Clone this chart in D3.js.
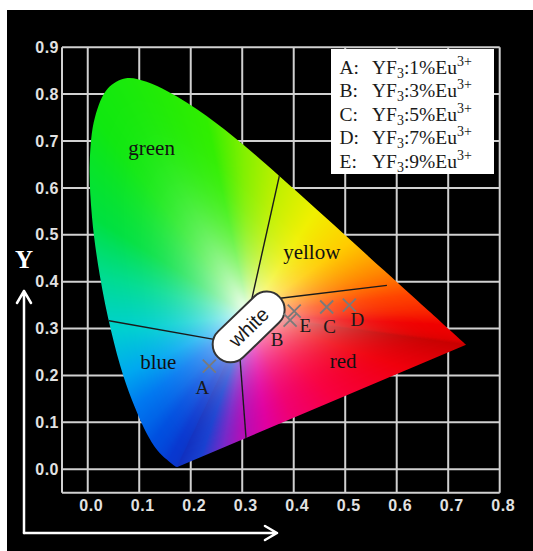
<!DOCTYPE html>
<html>
<head>
<meta charset="utf-8">
<script src="https://cdn.jsdelivr.net/npm/d3@7"></script>
<style>
  body { margin: 0; background: #fff; }
  svg { display: block; }
</style>
</head>
<body>
<div id="chart"></div>
<script>
// ---- chart data ----
var xTicks = [0.0, 0.1, 0.2, 0.3, 0.4, 0.5, 0.6, 0.7, 0.8];
var yTicks = [0.0, 0.1, 0.2, 0.3, 0.4, 0.5, 0.6, 0.7, 0.8, 0.9];

// CIE 1931 spectral locus (wavelength in nm, x, y)
var locusNm = [380, 420, 430, 440, 450, 460, 465, 470, 475, 480, 485, 490, 495, 500, 505, 510, 515, 520, 525, 530,
               535, 540, 545, 550, 555, 560, 565, 570, 575, 580, 585, 590, 595, 600, 605, 610, 620, 630, 640, 650, 700];
var locusX = [0.1741, 0.1714, 0.1689, 0.1644, 0.1566, 0.1440, 0.1355, 0.1241, 0.1096, 0.0913, 0.0687, 0.0454, 0.0235, 0.0082,
              0.0039, 0.0139, 0.0389, 0.0743, 0.1142, 0.1547, 0.1929, 0.2296, 0.2658, 0.3016, 0.3373, 0.3731, 0.4087, 0.4441,
              0.4788, 0.5125, 0.5448, 0.5752, 0.6029, 0.6270, 0.6482, 0.6658, 0.6915, 0.7079, 0.7190, 0.7260, 0.7347];
var locusY = [0.0050, 0.0051, 0.0069, 0.0109, 0.0177, 0.0297, 0.0399, 0.0578, 0.0868, 0.1327, 0.2007, 0.2950, 0.4127, 0.5384,
              0.6548, 0.7502, 0.8120, 0.8338, 0.8262, 0.8059, 0.7816, 0.7543, 0.7243, 0.6923, 0.6589, 0.6245, 0.5896, 0.5547,
              0.5202, 0.4866, 0.4544, 0.4242, 0.3965, 0.3725, 0.3514, 0.3340, 0.3083, 0.2920, 0.2809, 0.2740, 0.2653];
var whitePoint = [0.3127, 0.3290];

// colour regions
var regionNames = ['green', 'yellow', 'blue', 'red'];
var regionX = [0.124, 0.435, 0.137, 0.496];
var regionY = [0.671, 0.449, 0.213, 0.215];

// region boundaries [x1, y1, x2, y2]
var dividers = [
  [0.376, 0.645, 0.318, 0.360],
  [0.581, 0.392, 0.3695, 0.364],
  [0.025, 0.320, 0.2588, 0.2743],
  [0.2948, 0.2496, 0.3082, 0.055]
];

// white zone
var whiteCentre = [0.3125, 0.3034];

// samples
var sampleNames = ['A', 'B', 'C', 'D', 'E'];
var sampleX = [0.236, 0.393, 0.464, 0.508, 0.401];
var sampleY = [0.220, 0.318, 0.346, 0.350, 0.337];
var sampleDoping = ['1%', '3%', '5%', '7%', '9%'];

// ---- styles ----
var labelDx = [-7, -13, 3, 8, 11];
var labelDy = [28, 26, 26, 21, 21];

// edge colours along the locus (by wavelength) and the line of purples (fraction from red end)
var spectrumStops = [[380, '#1030c0'], [450, '#0838d0'], [470, '#0050e0'], [480, '#0078f0'], [485, '#00a8f0'],
                     [490, '#00d0d0'], [495, '#00dc90'], [500, '#00e040'], [510, '#10e810'], [540, '#30ee00'],
                     [550, '#80f000'], [560, '#c0f000'], [570, '#f0f000'], [580, '#ffcc00'], [590, '#ff8800'],
                     [600, '#ff4400'], [620, '#f00000'], [650, '#e00000'], [700, '#c80000']];
var purpleStops = [[0, '#c80000'], [0.2, '#f0000c'], [0.45, '#f80040'], [0.6, '#f00070'], [0.69, '#e000a0'],
                   [0.78, '#b010b8'], [0.84, '#7828c8'], [0.92, '#1840d0'], [1, '#1030c0']];

var width = 533, height = 551;

var svg = d3.select('#chart').append('svg')
            .attr('width', width)
            .attr('height', height);

// Scales
var x = d3.scaleLinear().domain([-0.05, 0.8]).range([62, 499.7]);
var y = d3.scaleLinear().domain([-0.05, 0.9]).range([492.7, 47.2]);

// Black panel
svg.append('rect')
   .attr('x', 7).attr('y', 10)
   .attr('width', 526).attr('height', 541)
   .attr('fill', '#000');

// Grid
var grid = svg.append('g').attr('stroke', '#d0d0d0').attr('stroke-width', 2);
grid.selectAll('.vline')
    .data([-0.05].concat(xTicks))
    .join('line')
    .attr('x1', function(d) { return x(d); })
    .attr('x2', function(d) { return x(d); })
    .attr('y1', y(0.9))
    .attr('y2', y(-0.05));
grid.selectAll('.hline')
    .data([-0.05].concat(yTicks))
    .join('line')
    .attr('x1', x(-0.05))
    .attr('x2', x(0.8))
    .attr('y1', function(d) { return y(d); })
    .attr('y2', function(d) { return y(d); });

// Tick labels
var fmt = d3.format('.1f');
var yAxis = svg.append('g')
               .attr('transform', 'translate(' + x(-0.05) + ',0)')
               .call(d3.axisLeft(y).tickValues(yTicks).tickFormat(fmt).tickSize(0).tickPadding(3));
var xAxis = svg.append('g')
               .attr('transform', 'translate(0,' + y(-0.05) + ')')
               .call(d3.axisBottom(x).tickValues(xTicks).tickFormat(fmt).tickSize(0).tickPadding(7));
[xAxis, yAxis].forEach(function(ax) {
  ax.select('.domain').remove();
  ax.selectAll('text')
    .attr('fill', '#e2e2e2')
    .style('font-family', '"Liberation Sans", Arial, sans-serif')
    .style('font-weight', 'bold')
    .style('font-size', '16px')
    .style('letter-spacing', '0.5px');
});
xAxis.selectAll('text').attr('dx', 3);

// ---- chromaticity fill ----
var locus = locusNm.map(function(nm, i) { return [locusX[i], locusY[i]]; });

function stopColour(stops, v) {
  for (var i = 1; i < stops.length; i++) {
    if (v <= stops[i][0]) {
      var t = (v - stops[i-1][0]) / (stops[i][0] - stops[i-1][0]);
      return d3.rgb(d3.interpolateRgb(stops[i-1][1], stops[i][1])(t));
    }
  }
  return d3.rgb(stops[stops.length-1][1]);
}

// boundary polygon with a colour at every vertex
var edgePts = locus.map(function(p, i) { return {p: p, c: stopColour(spectrumStops, locusNm[i])}; });
var red = locus[locus.length-1], blue = locus[0];
purpleStops.slice(1, -1).forEach(function(s) {
  edgePts.push({p: [red[0] + (blue[0]-red[0]) * s[0], red[1] + (blue[1]-red[1]) * s[0]], c: d3.rgb(s[1])});
});

// for each direction from the white point find the edge distance and colour
var nBins = 2048;
var binDist = new Float32Array(nBins), binCol = [];
for (var k = 0; k < nBins; k++) {
  var a = k / nBins * 2 * Math.PI, dx = Math.cos(a), dy = Math.sin(a);
  var best = Infinity, bestCol = d3.rgb('#fff');
  for (var i = 0; i < edgePts.length; i++) {
    var p1 = edgePts[i], p2 = edgePts[(i+1) % edgePts.length];
    var ex = p2.p[0] - p1.p[0], ey = p2.p[1] - p1.p[1];
    var den = dx * ey - dy * ex;
    if (Math.abs(den) < 1e-12) continue;
    var wx = p1.p[0] - whitePoint[0], wy = p1.p[1] - whitePoint[1];
    var t = (wx * ey - wy * ex) / den;
    var u = (wx * dy - wy * dx) / den;
    if (t > 0 && u >= 0 && u <= 1 && t < best) {
      best = t;
      bestCol = d3.rgb(d3.interpolateRgb(p1.c, p2.c)(u));
    }
  }
  binDist[k] = best;
  binCol.push(bestCol);
}

var x0 = Math.floor(x(-0.05)), x1 = Math.ceil(x(0.8));
var y0 = Math.floor(y(0.9)), y1 = Math.ceil(y(-0.05));
var canvas = document.createElement('canvas');
canvas.width = x1 - x0; canvas.height = y1 - y0;
var ctx = canvas.getContext('2d');
var img = ctx.createImageData(canvas.width, canvas.height);
for (var py = 0; py < canvas.height; py++) {
  for (var px = 0; px < canvas.width; px++) {
    var cx = x.invert(x0 + px + 0.5), cy = y.invert(y0 + py + 0.5);
    var ddx = cx - whitePoint[0], ddy = cy - whitePoint[1];
    var ang = Math.atan2(ddy, ddx); if (ang < 0) ang += 2 * Math.PI;
    var b = Math.round(ang / (2 * Math.PI) * nBins) % nBins;
    var s = Math.min(1, Math.sqrt(ddx*ddx + ddy*ddy) / binDist[b]);
    var f = 1 - Math.pow(1 - s, 2.6);
    var col = binCol[b];
    var o = (py * canvas.width + px) * 4;
    img.data[o] = 255 * (1 - f) + col.r * f;
    img.data[o+1] = 255 * (1 - f) + col.g * f;
    img.data[o+2] = 255 * (1 - f) + col.b * f;
    img.data[o+3] = 255;
  }
}
ctx.putImageData(img, 0, 0);

// locus outline as clip path (smooth curve, straight line of purples)
var locusLine = d3.line()
                  .x(function(d) { return x(d[0]); })
                  .y(function(d) { return y(d[1]); })
                  .curve(d3.curveCatmullRom);
svg.append('clipPath').attr('id', 'locus-clip')
   .append('path').attr('d', locusLine(locus) + 'Z');

svg.append('image')
   .attr('x', x0).attr('y', y0)
   .attr('width', canvas.width).attr('height', canvas.height)
   .attr('href', canvas.toDataURL())
   .attr('clip-path', 'url(#locus-clip)');

// Region boundaries
svg.append('g')
   .attr('clip-path', 'url(#locus-clip)')
   .selectAll('line')
   .data(dividers)
   .join('line')
   .attr('x1', function(d) { return x(d[0]); })
   .attr('y1', function(d) { return y(d[1]); })
   .attr('x2', function(d) { return x(d[2]); })
   .attr('y2', function(d) { return y(d[3]); })
   .attr('stroke', '#1a1a1a')
   .attr('stroke-width', 1.4);

// White zone badge
var badge = svg.append('g')
               .attr('transform', 'translate(' + x(whiteCentre[0]) + ',' + y(whiteCentre[1]) + ') rotate(-44)');
badge.append('rect')
     .attr('x', -43).attr('y', -18)
     .attr('width', 86).attr('height', 36)
     .attr('rx', 18)
     .attr('fill', '#fff')
     .attr('stroke', '#333')
     .attr('stroke-width', 2);
badge.append('text')
     .attr('text-anchor', 'middle')
     .attr('dy', '0.35em')
     .attr('fill', '#1a1a1a')
     .style('font-family', '"Liberation Sans", Arial, sans-serif')
     .style('font-size', '20px')
     .text('white');

// Region names
svg.append('g')
   .selectAll('text')
   .data(regionNames)
   .join('text')
   .attr('x', function(d, i) { return x(regionX[i]); })
   .attr('y', function(d, i) { return y(regionY[i]); })
   .attr('text-anchor', 'middle')
   .attr('fill', '#111')
   .style('font-family', '"Liberation Serif", "Times New Roman", serif')
   .style('font-size', '21px')
   .text(function(d) { return d; });

// Sample markers
var marks = svg.append('g');
marks.selectAll('path')
     .data(sampleNames)
     .join('path')
     .attr('d', function(d, i) {
       var px = x(sampleX[i]), py = y(sampleY[i]), r = 6.5;
       return 'M' + (px-r) + ',' + (py-r) + 'L' + (px+r) + ',' + (py+r) +
              'M' + (px+r) + ',' + (py-r) + 'L' + (px-r) + ',' + (py+r);
     })
     .attr('stroke', '#7a7a7a')
     .attr('stroke-width', 1.8)
     .attr('fill', 'none');
marks.selectAll('text')
     .data(sampleNames)
     .join('text')
     .attr('x', function(d, i) { return x(sampleX[i]) + labelDx[i]; })
     .attr('y', function(d, i) { return y(sampleY[i]) + labelDy[i]; })
     .attr('text-anchor', 'middle')
     .attr('fill', '#1a1a1a')
     .style('font-family', '"Liberation Serif", "Times New Roman", serif')
     .style('font-size', '19px')
     .text(function(d) { return d; });

// Legend
var legend = svg.append('g')
                .style('font-family', '"Liberation Serif", "Times New Roman", serif')
                .style('font-size', '19.5px')
                .attr('fill', '#1a1a1a');
legend.append('rect')
      .attr('x', 331).attr('y', 49)
      .attr('width', 163).attr('height', 125)
      .attr('fill', '#fff');
var rows = legend.selectAll('g.row')
                 .data(sampleNames)
                 .join('g')
                 .attr('class', 'row')
                 .attr('transform', function(d, i) { return 'translate(0,' + (73.5 + i * 23.5) + ')'; });
rows.append('text').attr('x', 339.5).text(function(d) { return d + ':'; });
var formula = rows.append('text').attr('x', 372);
formula.append('tspan').text('YF');
formula.append('tspan').attr('dy', 4).style('font-size', '14px').text('3');
formula.append('tspan').attr('dy', -4).text(function(d, i) { return ':' + sampleDoping[i] + 'Eu'; });
formula.append('tspan').attr('dy', -8).style('font-size', '14px').text('3+');

// Axis arrows
var arrows = svg.append('g')
                .attr('stroke', '#fff')
                .attr('stroke-width', 2.5)
                .attr('fill', 'none')
                .attr('stroke-linecap', 'round')
                .attr('stroke-linejoin', 'round');
arrows.append('path').attr('d', 'M24,533 L24,291 M17,303 L24,291 L31,303');
arrows.append('path').attr('d', 'M24,533 L277,533 M265,526 L277,533 L265,540');

svg.append('text')
   .attr('x', 24).attr('y', 268)
   .attr('text-anchor', 'middle')
   .attr('fill', '#fff')
   .style('font-family', '"Liberation Serif", "Times New Roman", serif')
   .style('font-weight', 'bold')
   .style('font-size', '25px')
   .text('Y');
</script>
</body>
</html>
